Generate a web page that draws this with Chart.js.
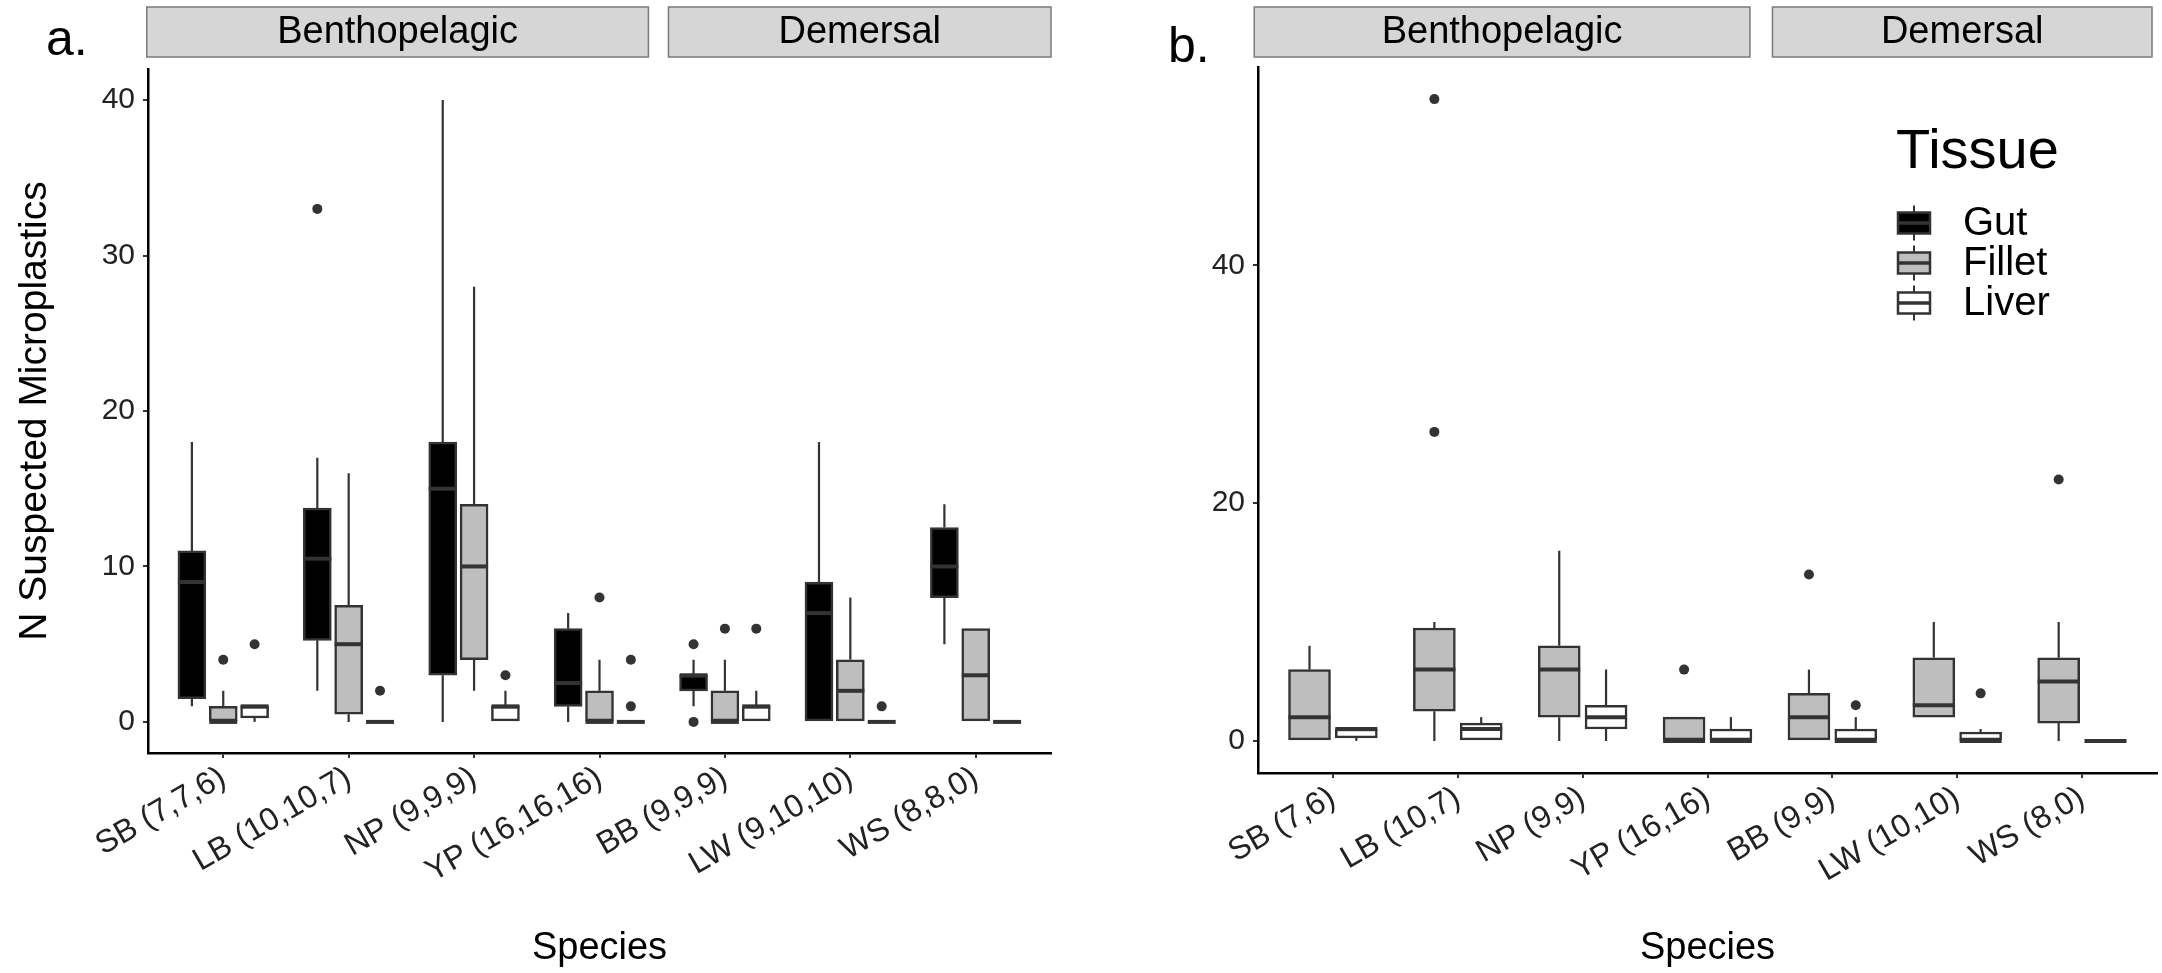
<!DOCTYPE html>
<html>
<head>
<meta charset="utf-8">
<script src="https://cdn.jsdelivr.net/npm/chart.js@4.4.1/dist/chart.umd.min.js"></script>
<style>
  html, body { margin: 0; padding: 0; background: #fff; }
  body { width: 2162px; height: 973px; position: relative; overflow: hidden; }
  canvas { position: absolute; top: 0; }
  #chartA { left: 0; }
  #chartB { left: 1100px; }
</style>
</head>
<body>
<canvas id="chartA" width="1100" height="973"></canvas>
<canvas id="chartB" width="1062" height="973"></canvas>
<script>
const speciesA = ['SB (7,7,6)', 'LB (10,10,7)', 'NP (9,9,9)', 'YP (16,16,16)', 'BB (9,9,9)', 'LW (9,10,10)', 'WS (8,8,0)'];
const speciesB = ['SB (7,6)', 'LB (10,7)', 'NP (9,9)', 'YP (16,16)', 'BB (9,9)', 'LW (10,10)', 'WS (8,0)'];
const tissues = ['Gut', 'Fillet', 'Liver'];
const yTicksA = [0, 10, 20, 30, 40];
const yTicksB = [0, 20, 40];

// each box: [lower whisker, Q1, median, Q3, upper whisker]
const gutA    = [[1, 1.5, 9, 11, 18], [2, 5.25, 10.5, 13.75, 17], [0, 3, 15, 18, 40], [0, 1, 2.5, 6, 7], [1, 2, 3, 3, 4], [0, 0, 7, 9, 18], [5, 8, 10, 12.5, 14]];
const filletA = [[0, 0, 0, 1, 2], [0, 0.5, 5, 7.5, 16], [2, 4, 10, 14, 28], [0, 0, 0, 2, 4], [0, 0, 0, 2, 4], [0, 0, 2, 4, 8], [0, 0, 3, 6, 6]];
const liverA  = [[0, 0.25, 1, 1, 1], [0, 0, 0, 0, 0], [0, 0, 1, 1, 2], [0, 0, 0, 0, 0], [0, 0, 1, 1, 2], [0, 0, 0, 0, 0], [0, 0, 0, 0, 0]];
const gutOutA    = [[], [33], [], [], [5, 0], [], []];
const filletOutA = [[4], [], [], [8], [6], [], []];
const liverOutA  = [[5], [2], [3], [4, 1], [6], [1], []];

const filletB = [[0, 0, 2, 6, 8], [0, 2.5, 6, 9.5, 10], [0, 2, 6, 8, 16], [0, 0, 0, 2, 2], [0, 0, 2, 4, 6], [2, 2, 3, 7, 10], [0, 1.5, 5, 7, 10]];
const liverB  = [[0, 0.25, 1, 1, 1], [0, 0, 1, 1.5, 2], [0, 1, 2, 3, 6], [0, 0, 0, 1, 2], [0, 0, 0, 1, 2], [0, 0, 0, 0.75, 1], [0, 0, 0, 0, 0]];
const filletOutB = [[], [26, 54], [], [6], [14], [], [22]];
const liverOutB  = [[], [], [], [], [3], [4], []];

const fills = { Gut: '#000000', Fillet: '#bebebe', Liver: '#ffffff' };
const edge = '#333333';
const FONT = "'Liberation Sans', Arial, sans-serif";
Chart.defaults.font.family = FONT;

function boxDataset(name, stats, shift, width) {
  return {
    type: 'bar', label: name, stats: stats, shift: shift,
    data: stats.map((s, i) => ({ x: i + 1 + shift, y: [s[1], s[3]] })),
    backgroundColor: fills[name], borderColor: edge, borderWidth: 2.5,
    borderSkipped: false, barThickness: width, grouped: false, order: 1
  };
}

function outlierDataset(name, outs, shift) {
  const pts = [];
  outs.forEach((list, i) => list.forEach(v => pts.push({ x: i + 1 + shift, y: v })));
  return {
    type: 'scatter', label: name, data: pts, order: 0,
    pointRadius: 5, pointBackgroundColor: edge, pointBorderWidth: 0
  };
}

function drawParts(chart, part) {
  const ctx = chart.ctx, xs = chart.scales.x, ys = chart.scales.y;
  ctx.save();
  ctx.strokeStyle = edge;
  chart.data.datasets.forEach(ds => {
    if (!ds.stats) return;
    ds.stats.forEach((s, i) => {
      const x = xs.getPixelForValue(i + 1 + ds.shift);
      ctx.beginPath();
      if (part === 'whisker') {
        ctx.lineWidth = 2.2;
        ctx.moveTo(x, ys.getPixelForValue(s[0]));
        ctx.lineTo(x, ys.getPixelForValue(s[1]));
        ctx.moveTo(x, ys.getPixelForValue(s[3]));
        ctx.lineTo(x, ys.getPixelForValue(s[4]));
      } else {
        const half = ds.barThickness / 2;
        const y = ys.getPixelForValue(s[2]);
        ctx.lineWidth = 4;
        ctx.moveTo(x - half, y);
        ctx.lineTo(x + half, y);
      }
      ctx.stroke();
    });
  });
  ctx.restore();
}

const boxPlugin = {
  id: 'boxParts',
  beforeDatasetsDraw(chart) { drawParts(chart, 'whisker'); },
  afterDatasetsDraw(chart) { drawParts(chart, 'median'); }
};

// facet strips, panel tag and (panel b) the legend
const decorPlugin = {
  id: 'decor',
  afterDraw(chart, args, opts) {
    const ctx = chart.ctx, xs = chart.scales.x;
    ctx.save();
    ctx.fillStyle = '#000';
    ctx.font = '50px ' + FONT;
    ctx.textAlign = 'left';
    ctx.textBaseline = 'alphabetic';
    ctx.fillText(opts.tag, opts.tagX, opts.tagY);

    opts.strips.forEach(st => {
      const x0 = xs.getPixelForValue(st[0]), x1 = xs.getPixelForValue(st[1]);
      ctx.fillStyle = '#d6d6d6';
      ctx.fillRect(x0, 7, x1 - x0, 50);
      ctx.strokeStyle = '#7a7a7a';
      ctx.lineWidth = 1.5;
      ctx.strokeRect(x0, 7, x1 - x0, 50);
      ctx.fillStyle = '#000';
      ctx.font = '38px ' + FONT;
      ctx.textAlign = 'center';
      ctx.textBaseline = 'middle';
      ctx.fillText(st[2], (x0 + x1) / 2, 33);
    });

    if (opts.legend) {
      const lx = 798;
      ctx.fillStyle = '#000';
      ctx.font = '56px ' + FONT;
      ctx.textAlign = 'left';
      ctx.textBaseline = 'alphabetic';
      ctx.fillText('Tissue', 796, 168);
      tissues.forEach((t, k) => {
        const yc = 223 + k * 40, w = 32, h = 21;
        ctx.strokeStyle = edge;
        ctx.lineWidth = 2;
        ctx.beginPath();
        ctx.moveTo(lx + w / 2, yc - h / 2 - 7);
        ctx.lineTo(lx + w / 2, yc + h / 2 + 7);
        ctx.stroke();
        ctx.fillStyle = fills[t];
        ctx.fillRect(lx, yc - h / 2, w, h);
        ctx.lineWidth = 2.5;
        ctx.strokeRect(lx, yc - h / 2, w, h);
        ctx.lineWidth = 3.5;
        ctx.beginPath();
        ctx.moveTo(lx, yc);
        ctx.lineTo(lx + w, yc);
        ctx.stroke();
        ctx.fillStyle = '#000';
        ctx.font = '40px ' + FONT;
        ctx.textBaseline = 'middle';
        ctx.fillText(t, 863, yc + 1);
      });
    }
    ctx.restore();
  }
};

function makeOptions(labels, yMin, yMax, yTicks, leftW, bottomH, padRight, padTop, yTitle, decor) {
  return {
    responsive: false,
    animation: false,
    events: [],
    layout: { padding: { left: 0, right: padRight, top: padTop, bottom: 0 } },
    plugins: { legend: { display: false }, tooltip: { enabled: false }, decor: decor },
    scales: {
      x: {
        type: 'linear', min: 0.4, max: 7.6, offset: false,
        afterBuildTicks: s => { s.ticks = labels.map((_, i) => ({ value: i + 1 })); },
        afterFit: s => { s.height = bottomH; },
        border: { display: true, color: '#000', width: 2.5 },
        grid: { display: true, offset: false, drawOnChartArea: false, drawTicks: true, tickLength: 5, color: edge, lineWidth: 2 },
        ticks: {
          autoSkip: false, minRotation: 30, maxRotation: 30, padding: 1,
          color: '#222', font: { size: 32 },
          callback: v => labels[Math.round(v) - 1]
        },
        title: { display: true, text: 'Species', color: '#000', font: { size: 38 }, padding: { top: 0, bottom: 2 } }
      },
      y: {
        type: 'linear', min: yMin, max: yMax,
        afterBuildTicks: s => { s.ticks = yTicks.map(v => ({ value: v })); },
        afterFit: s => { s.width = leftW; },
        border: { display: true, color: '#000', width: 2.5 },
        grid: { display: true, drawOnChartArea: false, drawTicks: true, tickLength: 5, color: edge, lineWidth: 2 },
        ticks: { padding: 8, color: '#222', font: { size: 30 } },
        title: { display: !!yTitle, text: yTitle || '', color: '#000', font: { size: 39 }, padding: { top: 12, bottom: 0 } }
      }
    }
  };
}

new Chart(document.getElementById('chartA'), {
  type: 'bar',
  data: {
    datasets: [
      boxDataset('Gut', gutA, -0.25, 28),
      boxDataset('Fillet', filletA, 0, 28),
      boxDataset('Liver', liverA, 0.25, 28),
      outlierDataset('Gut', gutOutA, -0.25),
      outlierDataset('Fillet', filletOutA, 0),
      outlierDataset('Liver', liverOutA, 0.25)
    ]
  },
  options: makeOptions(speciesA, -2, 42, yTicksA, 148, 220, 49, 69, 'N Suspected Microplastics', {
    tag: 'a.', tagX: 46, tagY: 55,
    strips: [[0.39, 4.39, 'Benthopelagic'], [4.55, 7.6, 'Demersal']],
    legend: false
  }),
  plugins: [boxPlugin, decorPlugin]
});

new Chart(document.getElementById('chartB'), {
  type: 'bar',
  data: {
    datasets: [
      boxDataset('Fillet', filletB, -0.1875, 42),
      boxDataset('Liver', liverB, 0.1875, 42),
      outlierDataset('Fillet', filletOutB, -0.1875),
      outlierDataset('Liver', liverOutB, 0.1875)
    ]
  },
  options: makeOptions(speciesB, -2.7, 56.7, yTicksB, 158, 200, 0, 67, '', {
    tag: 'b.', tagX: 68, tagY: 62,
    strips: [[0.37, 4.34, 'Benthopelagic'], [4.52, 7.56, 'Demersal']],
    legend: true
  }),
  plugins: [boxPlugin, decorPlugin]
});
</script>
</body>
</html>
